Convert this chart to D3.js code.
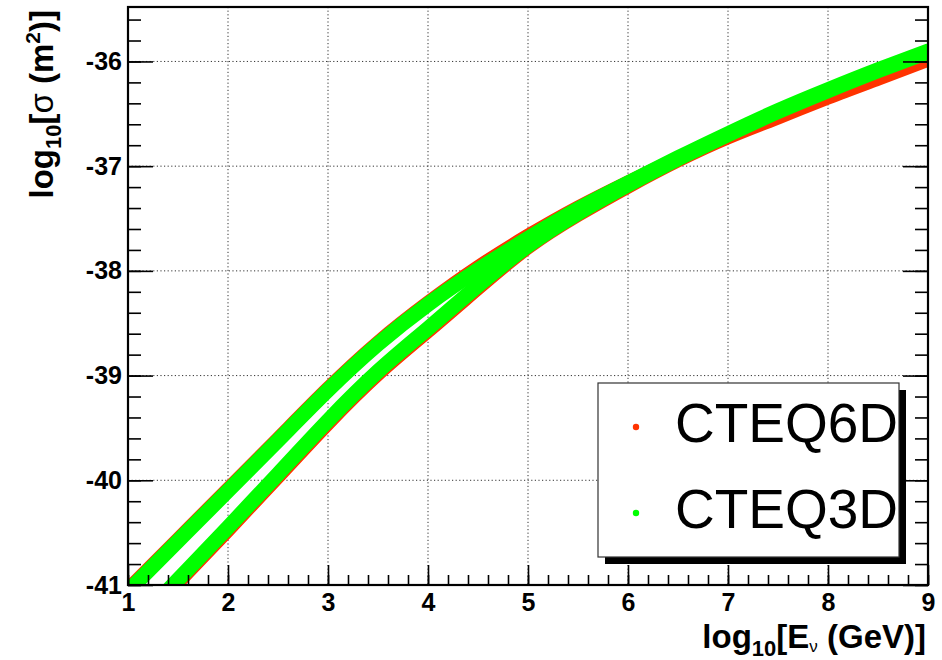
<!DOCTYPE html>
<html>
<head>
<meta charset="utf-8">
<script src="https://cdn.jsdelivr.net/npm/d3@7"></script>
<style>
  body { margin: 0; background: #fff; }
  svg { display: block; }
  text { font-family: "Liberation Sans", Arial, Helvetica, sans-serif; }
</style>
</head>
<body>
<svg id="chart" width="942" height="660"></svg>
<script>
// log10 of neutrino energy (GeV)
const logEnergy = [1, 1.5, 2, 2.5, 3, 3.5, 4, 4.5, 5, 5.5, 6, 6.5, 7, 7.5, 8, 8.5, 9];

// log10 of cross section (m^2), two branches per PDF set
const cteq6dUpper = [-41.05, -40.57, -40.09, -39.61, -39.13, -38.69, -38.31, -37.97, -37.67, -37.40, -37.16, -36.93, -36.71, -36.52, -36.33, -36.15, -35.97];
const cteq6dLower = [-41.47, -40.97, -40.47, -39.96, -39.45, -38.98, -38.57, -38.16, -37.77, -37.46, -37.19, -36.94, -36.72, -36.53, -36.34, -36.16, -35.98];
const cteq3dUpper = [-41.06, -40.58, -40.10, -39.62, -39.14, -38.70, -38.32, -37.99, -37.69, -37.41, -37.16, -36.92, -36.69, -36.47, -36.27, -36.08, -35.90];
const cteq3dLower = [-41.45, -40.95, -40.45, -39.94, -39.43, -38.96, -38.55, -38.14, -37.76, -37.45, -37.18, -36.93, -36.70, -36.48, -36.28, -36.09, -35.91];

const xTickValues = [1, 2, 3, 4, 5, 6, 7, 8, 9];
const xTickLabels = ["1", "2", "3", "4", "5", "6", "7", "8", "9"];
const yTickValues = [-41, -40, -39, -38, -37, -36];
const yTickLabels = ["-41", "-40", "-39", "-38", "-37", "-36"];
const seriesNames = ["CTEQ6D", "CTEQ3D"];

const RED = "#ff3300", GREEN = "#00ff00";
const FONT = '"Liberation Sans", Arial, Helvetica, sans-serif';

const svg = d3.select("#chart");
const plotL = 128, plotR = 928, plotT = 7, plotB = 585;

const x = d3.scaleLinear().domain([1, 9]).range([plotL, plotR]);
const y = d3.scaleLinear().domain([-41, -35.48]).range([plotB, plotT]);

svg.append("rect").attr("width", 942).attr("height", 660).attr("fill", "#fff");

// dotted grid
const grid = svg.append("g").attr("stroke", "#333").attr("stroke-width", 1)
  .attr("stroke-dasharray", "1.2,2.4");
grid.selectAll("line.gx").data(xTickValues.slice(1, -1)).join("line").attr("class", "gx")
  .attr("x1", d => x(d)).attr("x2", d => x(d)).attr("y1", plotT).attr("y2", plotB);
grid.selectAll("line.gy").data(yTickValues.slice(1)).join("line").attr("class", "gy")
  .attr("x1", plotL).attr("x2", plotR).attr("y1", d => y(d)).attr("y2", d => y(d));

// data bands
svg.append("clipPath").attr("id", "plotClip").append("rect")
  .attr("x", plotL).attr("y", plotT).attr("width", plotR - plotL).attr("height", plotB - plotT);

const line = d3.line().x(d => x(d[0])).y(d => y(d[1])).curve(d3.curveNatural);
const bands = [
  { vals: cteq6dUpper, color: RED },
  { vals: cteq6dLower, color: RED },
  { vals: cteq3dUpper, color: GREEN },
  { vals: cteq3dLower, color: GREEN }
];
const gBands = svg.append("g").attr("clip-path", "url(#plotClip)");
bands.forEach(b => {
  gBands.append("path")
    .datum(logEnergy.map((e, i) => [e, b.vals[i]]))
    .attr("d", line)
    .attr("fill", "none")
    .attr("stroke", b.color)
    .attr("stroke-width", 15)
    .attr("stroke-linecap", "round")
    .attr("stroke-linejoin", "round");
});

// axes
function styleAxis(g) {
  g.select(".domain").remove();
  g.selectAll(".tick line").attr("stroke", "#000").attr("stroke-width", 1.6);
}
const minorX = d3.range(1, 9.001, 0.2);
const minorY = d3.range(-41, -35.4, 0.2);

svg.append("g").attr("transform", `translate(0,${plotB})`)
  .call(d3.axisBottom(x).tickValues(minorX).tickSize(-10).tickFormat(""))
  .call(styleAxis);
const xAxis = svg.append("g").attr("transform", `translate(0,${plotB})`)
  .call(d3.axisBottom(x).tickValues(xTickValues).tickSize(-20)
    .tickFormat((d, i) => xTickLabels[i]).tickPadding(8))
  .call(styleAxis);
xAxis.selectAll(".tick text").attr("font-family", FONT).attr("font-size", 25)
  .attr("font-weight", "bold").attr("fill", "#000");

svg.append("g").attr("transform", `translate(${plotL},0)`)
  .call(d3.axisLeft(y).tickValues(minorY).tickSize(-13).tickFormat(""))
  .call(styleAxis);
const yAxis = svg.append("g").attr("transform", `translate(${plotL},0)`)
  .call(d3.axisLeft(y).tickValues(yTickValues).tickSize(-25)
    .tickFormat((d, i) => yTickLabels[i]).tickPadding(6))
  .call(styleAxis);
yAxis.selectAll(".tick text").attr("font-family", FONT).attr("font-size", 25)
  .attr("font-weight", "bold").attr("fill", "#000");

svg.append("g").attr("transform", `translate(${plotR},0)`)
  .call(d3.axisRight(y).tickValues(minorY).tickSize(-13).tickFormat(""))
  .call(styleAxis);
svg.append("g").attr("transform", `translate(${plotR},0)`)
  .call(d3.axisRight(y).tickValues(yTickValues).tickSize(-25).tickFormat(""))
  .call(styleAxis);

// frame
svg.append("rect").attr("x", plotL).attr("y", plotT)
  .attr("width", plotR - plotL).attr("height", plotB - plotT)
  .attr("fill", "none").attr("stroke", "#000").attr("stroke-width", 2.2);

// axis titles
const xt = svg.append("text").attr("x", 926).attr("y", 648)
  .attr("text-anchor", "end").attr("font-size", 33).attr("font-weight", "bold").attr("fill", "#000");
xt.append("tspan").text("log");
xt.append("tspan").attr("font-size", 22).attr("dy", 8).text("10");
xt.append("tspan").attr("dy", -8).text("[E");
xt.append("tspan").attr("font-size", 17).attr("font-weight", "normal").attr("dy", 4).text("ν");
xt.append("tspan").attr("dy", -4).text(" (GeV)]");

const yt = svg.append("text").attr("transform", "translate(53,10) rotate(-90)")
  .attr("text-anchor", "end").attr("font-size", 33).attr("font-weight", "bold").attr("fill", "#000");
yt.append("tspan").text("log");
yt.append("tspan").attr("font-size", 22).attr("dy", 8).text("10");
yt.append("tspan").attr("dy", -8).text("[");
yt.append("tspan").attr("font-weight", "normal").text("σ");
yt.append("tspan").text(" (m");
yt.append("tspan").attr("font-size", 21).attr("dy", -13).text("2");
yt.append("tspan").attr("dy", 13).text(")]");

// legend
const leg = { x: 598, y: 383, w: 301, h: 174 };
svg.append("rect").attr("x", leg.x + 7).attr("y", leg.y + 7)
  .attr("width", leg.w).attr("height", leg.h).attr("fill", "#000");
svg.append("rect").attr("x", leg.x).attr("y", leg.y)
  .attr("width", leg.w).attr("height", leg.h).attr("fill", "#fff")
  .attr("stroke", "#333").attr("stroke-width", 1.2);
const legColors = [RED, GREEN];
const rowY = [442, 528];
seriesNames.forEach((name, i) => {
  svg.append("circle").attr("cx", 636).attr("cy", rowY[i] - 15).attr("r", 3.2).attr("fill", legColors[i]);
  svg.append("text").attr("x", 675).attr("y", rowY[i]).attr("font-size", 55)
    .attr("fill", "#000").text(name);
});
</script>
</body>
</html>
